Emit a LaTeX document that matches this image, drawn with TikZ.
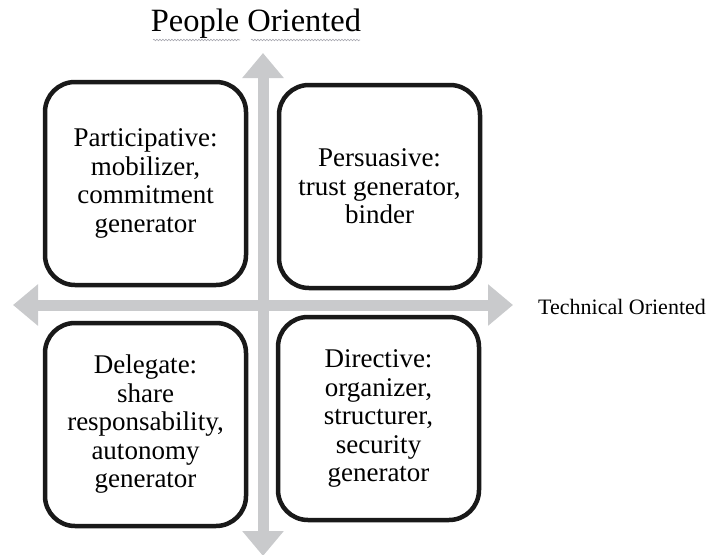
\documentclass[tikz,border=0pt]{standalone}
\usepackage{fontspec}
\setmainfont{Liberation Serif}
\newfontfamily\timesfont{Liberation Serif}
\usetikzlibrary{arrows.meta,decorations.pathmorphing}
\definecolor{axisgray}{HTML}{C9CACC}
\definecolor{squiggle}{HTML}{A8A8B0}
\tikzset{
  quad/.style={draw=black!90, line width=4.5pt, fill=white, rounded corners=30pt,
    minimum width=201pt, minimum height=203pt, align=center,
    font=\timesfont\fontsize{27pt}{28.5pt}\selectfont, inner sep=0pt},
  axis/.style={draw=axisgray, line width=11pt,
    {Triangle[width=40pt,length=25pt]}-{Triangle[width=40pt,length=25pt]}},
  wavy/.style={draw=squiggle, line width=0.6pt, decorate,
    decoration={snake, amplitude=0.8pt, segment length=3pt}}
}
\begin{document}
\begin{tikzpicture}[x=1pt,y=-1pt]
\useasboundingbox (0,0) rectangle (706,554);
% axes
\coordinate (L) at (13,305);
\coordinate (R) at (513,305);
\coordinate (T) at (263,53);
\coordinate (B) at (263,556);
\draw[axis] (L) -- (R);
\draw[axis] (T) -- (B);
% boxes
\node[quad] (pa) at (145.5,183.5) {Participative:\\mobilizer,\\commitment\\generator};
\node[quad] (pe) at (379.5,186.5) {Persuasive:\\trust generator,\\binder};
\node[quad] (de) at (145.5,424.5) {Delegate:\\share\\responsability,\\autonomy\\generator};
\node[quad] (di) at (378.5,418.5) {Directive:\\organizer,\\structurer,\\security\\generator};
% labels
\node[font=\timesfont\fontsize{32.5pt}{34pt}\selectfont, inner sep=0pt] (po) at (256,24) {People Oriented};
\node[font=\timesfont\fontsize{22pt}{24pt}\selectfont, inner sep=0pt, anchor=west] (to) at (538,307) {Technical Oriented};
\coordinate (w1a) at (153,40); \coordinate (w1b) at (240,40);
\coordinate (w2a) at (251,40); \coordinate (w2b) at (360,40);
\draw[wavy] (w1a) -- (w1b);
\draw[wavy] (w2a) -- (w2b);
\end{tikzpicture}
\end{document}
